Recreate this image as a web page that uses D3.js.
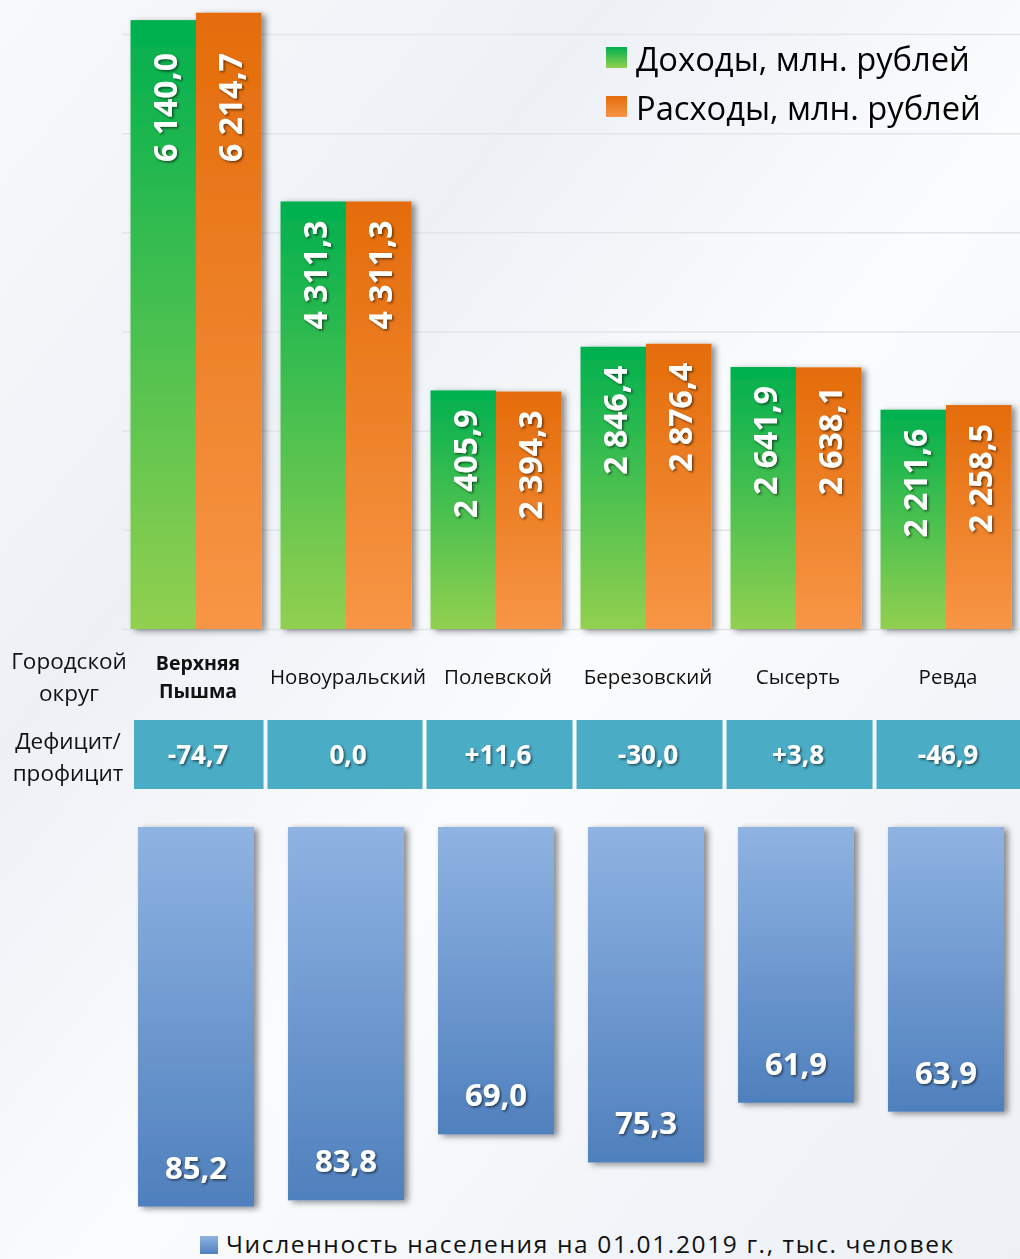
<!DOCTYPE html>
<html><head><meta charset="utf-8">
<script src="https://cdn.jsdelivr.net/npm/d3@7/dist/d3.min.js"></script>
<style>
html,body{margin:0;padding:0;background:#fff;}
svg{display:block;font-family:"Open Sans","Noto Sans",sans-serif;}
</style></head>
<body>
<svg id="chart" width="1020" height="1259"></svg>
<script>
// ---------- data ----------
const categories = ["Верхняя Пышма", "Новоуральский", "Полевской", "Березовский", "Сысерть", "Ревда"];
const income     = [6140.0, 4311.3, 2405.9, 2846.4, 2641.9, 2211.6];
const expenses   = [6214.7, 4311.3, 2394.3, 2876.4, 2638.1, 2258.5];
const balance    = [-74.7, 0.0, 11.6, -30.0, 3.8, -46.9];
const population = [85.2, 83.8, 69.0, 75.3, 61.9, 63.9];
const yTicks     = [0, 1000, 2000, 3000, 4000, 5000, 6000];
const seriesNames = ["Доходы, млн. рублей", "Расходы, млн. рублей"];
const popLegend  = "Численность населения на 01.01.2019 г., тыс. человек";
const rowLabels  = [["Городской", "округ"], ["Дефицит/", "профицит"]];
const highlighted = 0;

// ---------- setup ----------
const W = 1020, H = 1259;
const svg = d3.select("#chart");
const ru = d3.formatLocale({decimal: ",", thousands: "\u00a0", grouping: [3], currency: ["", ""], minus: "-"});
const fmtVal = ru.format(",.1f");
const fmt1 = ru.format(".1f");
const fmtBal = v => (v > 0 ? "+" : "") + fmt1(v);

const defs = svg.append("defs");
function vgrad(id, top, bottom) {
  const g = defs.append("linearGradient").attr("id", id).attr("x1", 0).attr("y1", 0).attr("x2", 0).attr("y2", 1);
  g.append("stop").attr("offset", "0%").attr("stop-color", top);
  g.append("stop").attr("offset", "100%").attr("stop-color", bottom);
}
vgrad("gInc", "#00b050", "#92d050");
vgrad("gExp", "#e46c0a", "#f79646");
vgrad("gPop", "#8fb3e2", "#4f80bd");
const bg = defs.append("linearGradient").attr("id", "bg").attr("x1", 0).attr("y1", 0).attr("x2", 1).attr("y2", 1);
[["0%", "#f8f9fb"], ["30%", "#edf1f6"], ["55%", "#fbfcfd"], ["80%", "#f1f4f8"], ["100%", "#edf1f6"]]
  .forEach(([o, c]) => bg.append("stop").attr("offset", o).attr("stop-color", c));

const fShadow = defs.append("filter").attr("id", "barShadow").attr("x", "-20%").attr("y", "-10%").attr("width", "140%").attr("height", "130%");
fShadow.append("feDropShadow").attr("dx", 4).attr("dy", 2).attr("stdDeviation", 3).attr("flood-color", "#000").attr("flood-opacity", 0.45);
const tShadow = defs.append("filter").attr("id", "txtShadow").attr("x", "-20%").attr("y", "-20%").attr("width", "140%").attr("height", "140%");
tShadow.append("feDropShadow").attr("dx", 1.5).attr("dy", 1.5).attr("stdDeviation", 1.2).attr("flood-color", "#000").attr("flood-opacity", 0.55);

svg.append("rect").attr("width", W).attr("height", H).attr("fill", "url(#bg)");

function fit(sel, target, maxSize) {
  const node = sel.node();
  const fs = parseFloat(sel.attr("font-size"));
  const len = node.getComputedTextLength();
  if (len > 0) sel.attr("font-size", Math.min(maxSize || 999, fs * target / len).toFixed(2));
  return sel;
}

// ---------- scales ----------
const x = d3.scaleBand().domain(categories).range([121, 1021]).paddingInner(0.127).paddingOuter(0.0635);
const xs = d3.scaleBand().domain([0, 1]).range([0, x.bandwidth()]);
const xp = d3.scaleBand().domain(categories).range([121, 1021]).paddingInner(0.227).paddingOuter(0.1135);
const yMax = 6000;
const y = d3.scaleLinear().domain([0, yMax]).range([629, 34]);
const yp = d3.scaleLinear().domain([0, 100]).range([827, 827 + 445.5]);

// ---------- gridlines ----------
const grid = svg.append("g").attr("transform", "translate(122,0)")
  .call(d3.axisLeft(y).tickValues(yTicks).tickSize(-(W - 122)).tickFormat(""));
grid.select(".domain").remove();
grid.selectAll(".tick line").attr("stroke", "#e2e4e8").attr("stroke-width", 1.5);

// ---------- top bars ----------
const series = [income, expenses];
const fills = ["url(#gInc)", "url(#gExp)"];
const groups = svg.append("g").selectAll("g").data(categories).join("g")
  .attr("transform", d => `translate(${x(d)},0)`)
  .attr("filter", "url(#barShadow)");
groups.each(function (c, i) {
  const g = d3.select(this);
  [0, 1].forEach(s => {
    const v = series[s][i];
    g.append("rect").attr("x", xs(s)).attr("width", xs.bandwidth())
      .attr("y", y(v)).attr("height", y(0) - y(v)).attr("fill", fills[s]);
  });
});
const labG = svg.append("g").attr("filter", "url(#txtShadow)");
categories.forEach((c, i) => {
  [0, 1].forEach(s => {
    const v = series[s][i];
    const cx = x(c) + xs(s) + xs.bandwidth() / 2 + 1;
    labG.append("text")
      .attr("transform", `translate(${cx},${y(Math.min(v, yMax)) + 19}) rotate(-90)`)
      .attr("text-anchor", "end").attr("dominant-baseline", "central")
      .attr("font-size", 32).attr("font-weight", 700).attr("fill", "#fff")
      .text(fmtVal(v));
  });
});

// ---------- legend top ----------
const legG = svg.append("g");
seriesNames.forEach((n, i) => {
  const yy = 58 + i * 49;
  legG.append("rect").attr("x", 606).attr("y", yy - 11).attr("width", 21).attr("height", 21).attr("fill", fills[i]);
  const t = legG.append("text").attr("x", 636).attr("y", yy).attr("dominant-baseline", "central")
    .attr("font-size", 30).attr("fill", "#000").text(n);
  fit(t, i === 0 ? 334 : 345);
});

// ---------- row labels ----------
const rowG = svg.append("g").attr("fill", "#111");
rowLabels[0].forEach((l, k) => rowG.append("text").attr("x", 69).attr("y", 660 + k * 32)
  .attr("text-anchor", "middle").attr("dominant-baseline", "central").attr("font-size", 22.5).text(l));
rowLabels[1].forEach((l, k) => rowG.append("text").attr("x", 68).attr("y", 740 + k * 32)
  .attr("text-anchor", "middle").attr("dominant-baseline", "central").attr("font-size", 22.5).text(l));

// category labels
const catG = svg.append("g").attr("fill", "#111");
categories.forEach((c, i) => {
  const cx = x(c) + x.bandwidth() / 2 + 2;
  if (i === highlighted) {
    c.split(" ").forEach((w, k) => catG.append("text").attr("x", cx).attr("y", 662 + k * 28)
      .attr("text-anchor", "middle").attr("dominant-baseline", "central")
      .attr("font-size", 19.5).attr("font-weight", 700).text(w));
  } else {
    catG.append("text").attr("x", cx).attr("y", 676)
      .attr("text-anchor", "middle").attr("dominant-baseline", "central")
      .attr("font-size", 20.5).text(c);
  }
});

// ---------- balance boxes ----------
const boxG = svg.append("g");
const boxTxt = svg.append("g").attr("filter", "url(#txtShadow)");
categories.forEach((c, i) => {
  const left = i === 0 ? 134 : x(c) - 4 - (i === 1 ? 9 : 0);
  const right = i === categories.length - 1 ? W : x(categories[i + 1]) - 8 - (i === 0 ? 9 : 0);
  boxG.append("rect").attr("x", left).attr("y", 720).attr("width", right - left).attr("height", 69).attr("fill", "#4bacc6");
  boxTxt.append("text").attr("x", x(c) + x.bandwidth() / 2 + 2).attr("y", 754)
    .attr("text-anchor", "middle").attr("dominant-baseline", "central")
    .attr("font-size", 26).attr("font-weight", 700).attr("fill", "#fff").text(fmtBal(balance[i]));
});

// ---------- population bars ----------
const popG = svg.append("g").attr("filter", "url(#barShadow)");
popG.selectAll("rect").data(categories).join("rect")
  .attr("x", d => xp(d)).attr("width", xp.bandwidth())
  .attr("y", yp(0)).attr("height", (d, i) => yp(population[i]) - yp(0))
  .attr("fill", "url(#gPop)");
const popT = svg.append("g").attr("filter", "url(#txtShadow)");
categories.forEach((c, i) => {
  popT.append("text").attr("x", xp(c) + xp.bandwidth() / 2).attr("y", yp(population[i]) - 40)
    .attr("text-anchor", "middle").attr("dominant-baseline", "central")
    .attr("font-size", 31).attr("font-weight", 700).attr("fill", "#fff").text(fmt1(population[i]));
});

// bottom legend
svg.append("rect").attr("x", 200).attr("y", 1236).attr("width", 18).attr("height", 18).attr("fill", "url(#gPop)");
const bl = svg.append("text").attr("x", 226).attr("y", 1243).attr("dominant-baseline", "central")
  .attr("font-size", 24.5).attr("fill", "#111").text(popLegend);
{
  const len = bl.node().getComputedTextLength();
  bl.attr("letter-spacing", ((729 - len) / popLegend.length).toFixed(2));
}
</script>
</body></html>
